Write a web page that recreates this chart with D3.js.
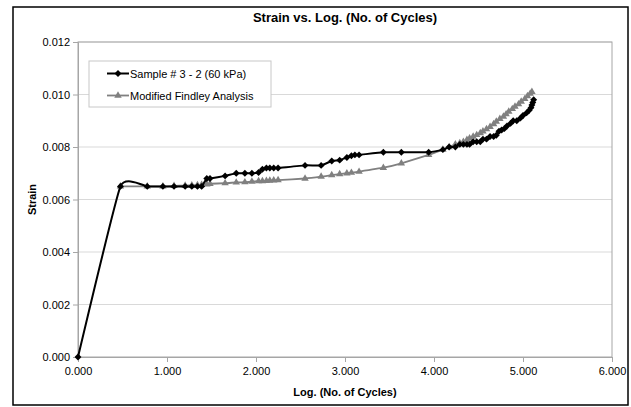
<!DOCTYPE html>
<html><head><meta charset="utf-8">
<script src="https://cdn.jsdelivr.net/npm/d3@7"></script>
<style>body{margin:0;background:#fff}svg{display:block}text{font-family:"Liberation Sans",Arial,sans-serif}</style>
</head><body><svg id="c" width="631" height="407"></svg>
<script>
const chartTitle = "Strain vs. Log. (No. of Cycles)";
const xTitle = "Log. (No. of Cycles)";
const yTitle = "Strain";
const seriesNames = ["Sample # 3 - 2 (60 kPa)", "Modified Findley Analysis"];
const xTicks = [0, 1, 2, 3, 4, 5, 6];
const yTicks = [0, 0.002, 0.004, 0.006, 0.008, 0.010, 0.012];

const sampleX = [0, 0.477, 0.778, 0.954, 1.079, 1.204, 1.279, 1.342, 1.389, 1.447, 1.483, 1.653, 1.778, 1.875, 1.954, 2.029, 2.072, 2.117, 2.155, 2.199, 2.248, 2.551, 2.732, 2.851, 2.940, 3.021, 3.072, 3.111, 3.158, 3.431, 3.633, 3.940,
  4.10, 4.17, 4.24, 4.29, 4.33, 4.37, 4.40, 4.44, 4.48, 4.52, 4.55, 4.59, 4.63, 4.67, 4.70, 4.73, 4.76, 4.79, 4.82, 4.86, 4.89, 4.93, 4.97, 5.00, 5.04, 5.07, 5.09, 5.10, 5.11, 5.12];
const sampleY = [0, 0.0065, 0.0065, 0.0065, 0.0065, 0.0065, 0.0065, 0.0065, 0.0065, 0.0068, 0.0068, 0.0069, 0.0070, 0.0070, 0.0070, 0.00703, 0.00715, 0.0072, 0.0072, 0.0072, 0.0072, 0.0073, 0.0073, 0.00747, 0.0075, 0.0076, 0.00767, 0.0077, 0.0077, 0.0078, 0.0078, 0.0078,
  0.0079, 0.0080, 0.0080, 0.0081, 0.0081, 0.0081, 0.0081, 0.0082, 0.0082, 0.0082, 0.0083, 0.0083, 0.0084, 0.0084, 0.00845, 0.0086, 0.00865, 0.0087, 0.0088, 0.0089, 0.0090, 0.0090, 0.0091, 0.0092, 0.0093, 0.0094, 0.0095, 0.0096, 0.0097, 0.0098];

const findleyX = [0.477, 0.778, 0.954, 1.079, 1.204, 1.279, 1.342, 1.389, 1.447, 1.483, 1.653, 1.778, 1.875, 1.954, 2.029, 2.072, 2.117, 2.155, 2.199, 2.248, 2.551, 2.732, 2.851, 2.940, 3.021, 3.072, 3.158, 3.431, 3.633, 3.940,
  4.10, 4.17, 4.24, 4.29, 4.33, 4.37, 4.40, 4.44, 4.48, 4.52, 4.55, 4.59, 4.63, 4.67, 4.70, 4.74, 4.78, 4.81, 4.84, 4.88, 4.91, 4.95, 4.98, 5.02, 5.05, 5.08, 5.10];
const findleyY = [0.0065, 0.0065, 0.0065, 0.00652, 0.00653, 0.00654, 0.00655, 0.00656, 0.00658, 0.0066, 0.00662, 0.00665, 0.00666, 0.00668, 0.0067, 0.0067, 0.00671, 0.00672, 0.00673, 0.00674, 0.0068, 0.00687, 0.00693, 0.00697, 0.0070, 0.00702, 0.00706, 0.00721, 0.00738, 0.0077,
  0.0079, 0.0080, 0.0081, 0.00815, 0.0082, 0.00827, 0.00833, 0.0084, 0.00846, 0.00853, 0.0086, 0.00868, 0.00877, 0.00887, 0.00897, 0.00907, 0.00916, 0.00925, 0.00935, 0.00945, 0.00954, 0.00963, 0.00973, 0.00983, 0.00994, 0.01003, 0.0101];

const svg = d3.select("#c");
const L = 78, R = 612, T = 42, B = 357;
const x = d3.scaleLinear().domain([0, 6]).range([L, R]);
const y = d3.scaleLinear().domain([0, 0.012]).range([B, T]);

svg.append("rect").attr("x", 13).attr("y", 7).attr("width", 615).attr("height", 398)
  .attr("fill", "#fff").attr("stroke", "#000").attr("stroke-width", 1.5);

svg.append("g").selectAll("line").data(yTicks.slice(1)).join("line")
  .attr("x1", L).attr("x2", R).attr("y1", d => y(d)).attr("y2", d => y(d))
  .attr("stroke", "#d9d9d9").attr("stroke-width", 1);

svg.append("rect").attr("x", L).attr("y", T).attr("width", R - L).attr("height", B - T)
  .attr("fill", "none").attr("stroke", "#a6a6a6").attr("stroke-width", 1);

const fmt = d3.format(".3f");
const yAxis = d3.axisLeft(y).tickValues(yTicks).tickFormat(fmt).tickSize(5).tickPadding(3);
const xAxis = d3.axisBottom(x).tickValues(xTicks).tickFormat(fmt).tickSize(5).tickPadding(5);
const gy = svg.append("g").attr("transform", `translate(${L},0)`).call(yAxis);
const gx = svg.append("g").attr("transform", `translate(0,${B})`).call(xAxis);
[gx, gy].forEach(g => {
  g.select(".domain").attr("stroke", "#a6a6a6");
  g.selectAll(".tick line").attr("stroke", "#a6a6a6");
  g.selectAll(".tick text").attr("font-size", 11).attr("fill", "#000")
    .style("font-family", "'Liberation Sans', Arial, sans-serif");
});

svg.append("text").attr("x", (L + R) / 2).attr("y", 22).attr("text-anchor", "middle")
  .attr("font-size", 13).attr("font-weight", "bold").text(chartTitle);
svg.append("text").attr("x", (L + R) / 2).attr("y", 396).attr("text-anchor", "middle")
  .attr("font-size", 11).attr("font-weight", "bold").text(xTitle);
svg.append("text").attr("transform", `translate(36,${(T + B) / 2}) rotate(-90)`).attr("text-anchor", "middle")
  .attr("font-size", 11).attr("font-weight", "bold").text(yTitle);

const sample = sampleX.map((v, i) => [v, sampleY[i]]);
const findley = findleyX.map((v, i) => [v, findleyY[i]]);

const diamond = d3.symbol().type(d3.symbolSquare).size(24);
const tri = d3.symbol().type(d3.symbolTriangle).size(24);

svg.append("path").datum(findley)
  .attr("d", d3.line().x(d => x(d[0])).y(d => y(d[1])).curve(d3.curveCardinal.tension(0.5)))
  .attr("fill", "none").attr("stroke", "#808080").attr("stroke-width", 1.8);
svg.append("g").selectAll("path").data(findley).join("path")
  .attr("transform", d => `translate(${x(d[0])},${y(d[1])})`).attr("d", tri).attr("fill", "#808080");

svg.append("path").datum(sample)
  .attr("d", d3.line().x(d => x(d[0])).y(d => y(d[1])).curve(d3.curveCardinal.tension(0.6)))
  .attr("fill", "none").attr("stroke", "#000").attr("stroke-width", 2);
svg.append("g").selectAll("path").data(sample).join("path")
  .attr("transform", d => `translate(${x(d[0])},${y(d[1])}) rotate(45)`).attr("d", diamond).attr("fill", "#000");

const lg = svg.append("g");
lg.append("rect").attr("x", 89).attr("y", 61).attr("width", 182).attr("height", 46)
  .attr("fill", "#fff").attr("stroke", "#c8c8c8").attr("stroke-width", 1);
const rows = [{c: "#000", w: 2, s: diamond, yy: 73.5, r: 45}, {c: "#808080", w: 1.8, s: tri, yy: 95.5, r: 0}];
rows.forEach((r, i) => {
  lg.append("line").attr("x1", 107).attr("x2", 129).attr("y1", r.yy).attr("y2", r.yy)
    .attr("stroke", r.c).attr("stroke-width", r.w);
  lg.append("path").attr("transform", `translate(118,${r.yy}) rotate(${r.r})`).attr("d", r.s).attr("fill", r.c);
  lg.append("text").attr("x", 130).attr("y", r.yy + 4).attr("font-size", 11).text(seriesNames[i]);
});
</script></body></html>
